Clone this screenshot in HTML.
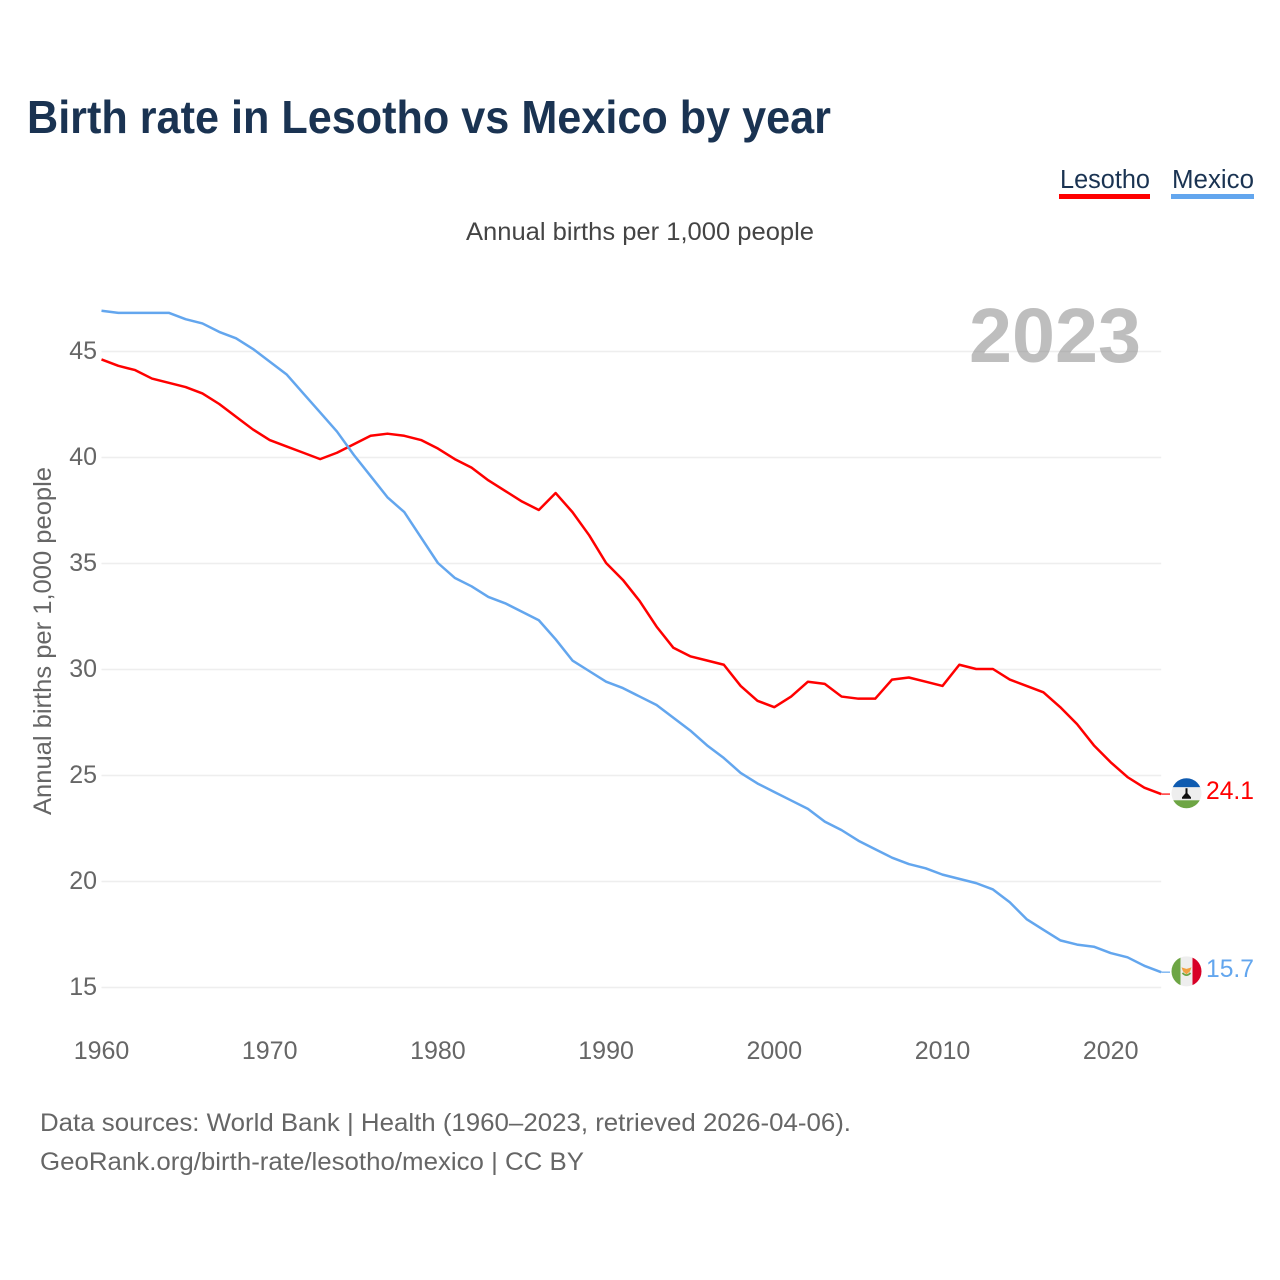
<!DOCTYPE html>
<html lang="en">
<head>
<meta charset="utf-8">
<title>Birth rate in Lesotho vs Mexico by year</title>
<style>
html,body{margin:0;padding:0;background:#fff;}
svg{display:block;font-family:"Liberation Sans",sans-serif;}
</style>
</head>
<body>
<svg id="chart" xmlns="http://www.w3.org/2000/svg" width="1280" height="1280" viewBox="0 0 1280 1280">
  <defs>
    <clipPath id="clip-lesotho"><circle id="clip-lesotho-circle" cx="1186.5" cy="793" r="15"></circle></clipPath>
    <clipPath id="clip-mexico"><circle id="clip-mexico-circle" cx="1186.5" cy="971" r="15"></circle></clipPath>
  </defs>
  <rect width="1280" height="1280" fill="#ffffff"></rect>
  <text x="27" y="133" font-size="46" font-weight="700" fill="#1a3352" textLength="804" lengthAdjust="spacingAndGlyphs">Birth rate in Lesotho vs Mexico by year</text>

  <g>
    <g>
      <text x="1060" y="188" font-size="25.5" fill="#1a3352" textLength="90" lengthAdjust="spacingAndGlyphs">Lesotho</text>
      <rect x="1059" y="194" width="91" height="5" fill="#ff0000"></rect>
    </g>
    <g>
      <text x="1172" y="188" font-size="25.5" fill="#1a3352" textLength="82" lengthAdjust="spacingAndGlyphs">Mexico</text>
      <rect x="1171" y="194" width="83" height="5" fill="#63a6ee"></rect>
    </g>
  </g>

  <text x="466" y="240" font-size="25" fill="#444444" textLength="348" lengthAdjust="spacingAndGlyphs">Annual births per 1,000 people</text>
  <text transform="translate(51,815) rotate(-90)" x="0" y="0" font-size="25" fill="#666666" textLength="348" lengthAdjust="spacingAndGlyphs">Annual births per 1,000 people</text>

  <g id="grid"></g>
  <g id="y-ticks"></g>
  <g id="x-ticks"></g>

  <text x="969" y="362" font-size="77" font-weight="700" fill="#888888" fill-opacity="0.55" textLength="172" lengthAdjust="spacingAndGlyphs">2023</text>

  <g id="series"></g>

  <g id="flag-lesotho" clip-path="url(#clip-lesotho)">
    <rect x="1171" y="777" width="31" height="10" fill="#0f5bb0"></rect>
    <rect x="1171" y="787" width="31" height="13" fill="#eeeeee"></rect>
    <rect x="1171" y="800" width="31" height="10" fill="#6da544"></rect>
    <path d="M1185.500 788h2v5l3.500 4v1.500h-9v-1.500l3.500-4z" fill="#111111"></path>
  </g>
  <g id="flag-mexico" clip-path="url(#clip-mexico)">
    <rect x="1171" y="955" width="9.500" height="32" fill="#6da544"></rect>
    <rect x="1180.500" y="955" width="12" height="32" fill="#eeeeee"></rect>
    <rect x="1192.500" y="955" width="10" height="32" fill="#d80027"></rect>
    <path d="M1181.500 967l5 1.500 5-1.500-1.500 4-3.500 3-3.500-3z" fill="#f0a040"></path>
    <path d="M1182.500 972.500q4 4.500 8 0" fill="none" stroke="#6da544" stroke-width="1.800"></path>
  </g>

  <text id="value-lesotho" x="1206" y="799" font-size="25" fill="#ff0000" textLength="48" lengthAdjust="spacingAndGlyphs"></text>
  <text id="value-mexico" x="1206" y="977" font-size="25" fill="#63a6ee" textLength="48" lengthAdjust="spacingAndGlyphs"></text>

  <text x="40" y="1131" font-size="25" fill="#666666" textLength="811" lengthAdjust="spacingAndGlyphs">Data sources: World Bank | Health (1960–2023, retrieved 2026-04-06).</text>
  <text x="40" y="1170" font-size="25" fill="#666666" textLength="544" lengthAdjust="spacingAndGlyphs">GeoRank.org/birth-rate/lesotho/mexico | CC BY</text>
</svg>
<script>
const startYear = 1960;
const endYear = 2023;
const yTickValues = [15, 20, 25, 30, 35, 40, 45];
const xTickValues = [1960, 1970, 1980, 1990, 2000, 2010, 2020];
const lesothoValues = [44.6,44.3,44.1,43.7,43.5,43.3,43.0,42.5,41.9,41.3,40.8,40.5,40.2,39.9,40.2,40.6,41.0,41.1,41.0,40.8,40.4,39.9,39.5,38.9,38.4,37.9,37.5,38.3,37.4,36.3,35.0,34.2,33.2,32.0,31.0,30.6,30.4,30.2,29.2,28.5,28.2,28.7,29.4,29.3,28.7,28.6,28.6,29.5,29.6,29.4,29.2,30.2,30.0,30.0,29.5,29.2,28.9,28.2,27.4,26.4,25.6,24.9,24.4,24.1];
const mexicoValues = [46.9,46.8,46.8,46.8,46.8,46.5,46.3,45.9,45.6,45.1,44.5,43.9,43.0,42.1,41.2,40.1,39.1,38.1,37.4,36.2,35.0,34.3,33.9,33.4,33.1,32.7,32.3,31.4,30.4,29.9,29.4,29.1,28.7,28.3,27.7,27.1,26.4,25.8,25.1,24.6,24.2,23.8,23.4,22.8,22.4,21.9,21.5,21.1,20.8,20.6,20.3,20.1,19.9,19.6,19.0,18.2,17.7,17.2,17.0,16.9,16.6,16.4,16.0,15.7];

const NS = 'http://www.w3.org/2000/svg';
const xScale = function (year) { return 101.5 + (year - startYear) * 16.82; };
const yScale = function (value) { return 987 - (value - 15) * 21.2; };
const plotRight = xScale(endYear);

function svgEl(parent, tag, attrs) {
  const el = document.createElementNS(NS, tag);
  Object.keys(attrs).forEach(function (k) { el.setAttribute(k, attrs[k]); });
  parent.appendChild(el);
  return el;
}

const gridGroup = document.getElementById('grid');
const yTickGroup = document.getElementById('y-ticks');
yTickValues.forEach(function (v) {
  const line = svgEl(gridGroup, 'line', { x1: 101.5, x2: plotRight, y1: yScale(v) + 0.5, y2: yScale(v) + 0.5, stroke: '#eeeeee', 'stroke-width': 1.6 });
  
  
  const label = svgEl(yTickGroup, 'text', { x: 97, y: yScale(v) + 8, 'font-size': 25, fill: '#666666', 'text-anchor': 'end' });
  
  
  label.textContent = String(v);
});

const xTickGroup = document.getElementById('x-ticks');
xTickValues.forEach(function (yr) {
  const label = svgEl(xTickGroup, 'text', { x: xScale(yr), y: 1059, 'font-size': 25, fill: '#666666', 'text-anchor': 'middle' });
  
  
  label.textContent = String(yr);
});

function linePath(values) {
  return values.map(function (v, i) {
    return (i === 0 ? 'M' : 'L') + xScale(startYear + i).toFixed(2) + ' ' + yScale(v).toFixed(2);
  }).join(' ');
}

const seriesGroup = document.getElementById('series');

const lesothoLine = svgEl(seriesGroup, 'path', { d: linePath(lesothoValues), fill: 'none', stroke: '#ff0000', 'stroke-width': 2.5, 'stroke-linejoin': 'round' });



const mexicoLine = svgEl(seriesGroup, 'path', { d: linePath(mexicoValues), fill: 'none', stroke: '#63a6ee', 'stroke-width': 2.5, 'stroke-linejoin': 'round' });



const lesothoLast = lesothoValues[lesothoValues.length - 1];
const mexicoLast = mexicoValues[mexicoValues.length - 1];

const lesothoTail = svgEl(seriesGroup, 'line', { x1: plotRight, x2: 1170, y1: yScale(lesothoLast), y2: yScale(lesothoLast), stroke: '#ff0000', 'stroke-width': 1.2 });



const mexicoTail = svgEl(seriesGroup, 'line', { x1: plotRight, x2: 1170, y1: yScale(mexicoLast), y2: yScale(mexicoLast), stroke: '#63a6ee', 'stroke-width': 1.2 });



function placeEnd(flagId, clipId, labelId, value) {
  const y = yScale(value);
  const flag = document.getElementById(flagId);
  const circle = document.getElementById(clipId);
  const baseCy = parseFloat(circle.getAttribute('cy'));
  const dy = (y - 0.8) - baseCy;
  flag.setAttribute('transform', 'translate(0,' + dy.toFixed(2) + ')');
  const label = document.getElementById(labelId);
  label.setAttribute('y', (y + 5).toFixed(2));
  label.textContent = value.toFixed(1);
}
placeEnd('flag-lesotho', 'clip-lesotho-circle', 'value-lesotho', lesothoLast);
placeEnd('flag-mexico', 'clip-mexico-circle', 'value-mexico', mexicoLast);
</script>
</body>
</html>
